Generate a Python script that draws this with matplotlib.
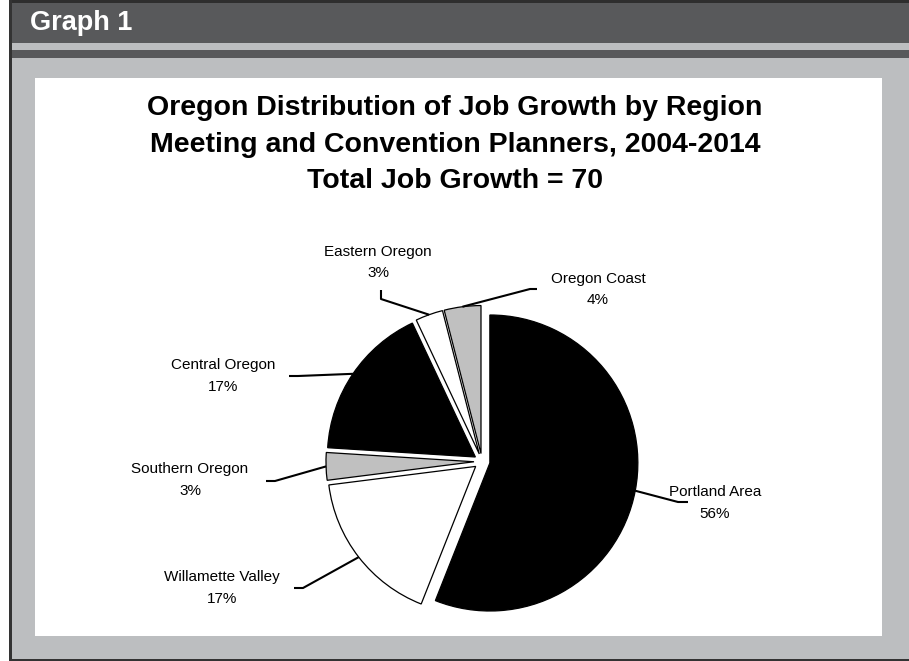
import matplotlib
matplotlib.use("Agg")
import matplotlib.pyplot as plt
import numpy as np
from matplotlib.patches import Rectangle

# ---- data ----
regions = ["Portland Area", "Willamette Valley", "Southern Oregon",
           "Central Oregon", "Eastern Oregon", "Oregon Coast"]
shares = [56, 17, 3, 17, 3, 4]
slice_colors = ["#000000", "#ffffff", "#c0c0c0", "#000000", "#ffffff", "#c0c0c0"]
title_lines = ["Oregon Distribution of Job Growth by Region",
               "Meeting and Convention Planners, 2004-2014",
               "Total Job Growth = 70"]
header_text = "Graph 1"

# ---- layout (pixel coordinates, origin top-left) ----
W, H = 909, 661
FONT = "Liberation Sans"

fig = plt.figure(figsize=(W / 100, H / 100), dpi=100)
fig.patch.set_facecolor("white")
ax = fig.add_axes([0, 0, 1, 1])


def Y(py):
    return H - py


def rect(x0, y0, x1, y1, color, z=0):
    ax.add_patch(Rectangle((x0, Y(y1)), x1 - x0, y1 - y0, facecolor=color,
                           edgecolor="none", zorder=z))


DARK = "#58595b"
GRAY = "#bcbec0"
rect(9, 0, W, H, GRAY)
rect(12, 0, W, 43, DARK)
rect(12, 0, W, 3, "#2e2e2e")
rect(12, 50, W, 58, DARK)
rect(9, 0, 12, H, "#333333")
rect(9, 659, W, H, "#333333")
rect(35, 78, 882, 636, "white")

ax.text(30, Y(23), header_text, color="white", fontsize=19.5, fontweight="bold",
        family=FONT, ha="left", va="center", zorder=3)

for i, line in enumerate(title_lines):
    ax.text(455, Y([108, 145, 181][i]), line, fontsize=20.5, fontweight="bold",
            family=FONT, ha="center", va="center", zorder=3)

# ---- pie ----
cx, cy, R, EXPL = 482, 461.5, 148, 8
wedges, _ = ax.pie(shares, colors=slice_colors, startangle=90, counterclock=False,
                   explode=[EXPL] * len(shares), radius=R, center=(cx, Y(cy)),
                   wedgeprops=dict(edgecolor="black", linewidth=0.9),
                   frame=True)

# label positions (x, name line y, pct line y) and leader elbows
label_pos = {
    "Portland Area": (715, 492, 514),
    "Willamette Valley": (222, 577, 599),
    "Southern Oregon": (190, 469, 491),
    "Central Oregon": (223, 365, 387),
    "Eastern Oregon": (378, 252, 273),
    "Oregon Coast": (598, 279, 300),
}
leader = {
    "Portland Area": [(678, 502), (688, 502)],
    "Willamette Valley": [(303, 588), (294, 588)],
    "Southern Oregon": [(275, 481), (266, 481)],
    "Central Oregon": [(298, 376), (289, 376)],
    "Eastern Oregon": [(381, 299), (381, 290)],
    "Oregon Coast": [(530, 289), (537, 289)],
}

for w, name, v in zip(wedges, regions, shares):
    mid = np.deg2rad((w.theta1 + w.theta2) / 2)
    ax_, ay_ = w.center
    px = ax_ + w.r * np.cos(mid)
    py = ay_ + w.r * np.sin(mid)
    pts = [(px, py)] + [(x, Y(y)) for x, y in leader[name]]
    ax.plot([p[0] for p in pts], [p[1] for p in pts], color="black", lw=1.5,
            zorder=4, solid_capstyle="butt")
    lx, ly1, ly2 = label_pos[name]
    ax.text(lx, Y(ly1), name, fontsize=11, family=FONT, ha="center", va="center",
            zorder=5)
    ax.text(lx, Y(ly2), f"{v}%", fontsize=11, family=FONT, ha="center",
            va="center", zorder=5)

ax.set_xlim(0, W)
ax.set_ylim(0, H)
ax.set_aspect("auto")
ax.axis("off")

fig.savefig("out.png", dpi=100, facecolor="white")
